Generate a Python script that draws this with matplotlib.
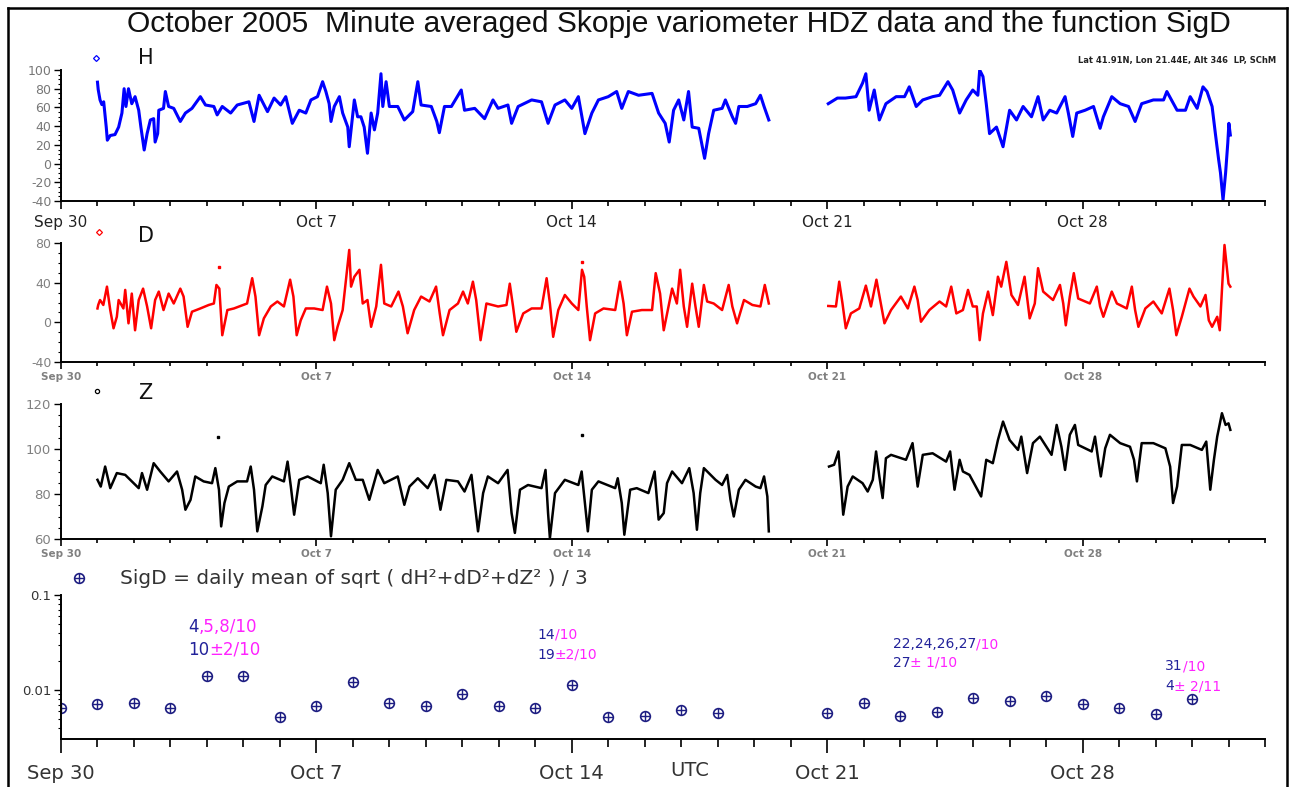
import numpy as np
import matplotlib
matplotlib.use("Agg")
import matplotlib.pyplot as plt
from matplotlib.lines import Line2D
from matplotlib.ticker import MultipleLocator, FixedLocator, NullFormatter, LogLocator

plt.rcParams["axes.unicode_minus"] = False

# ---------------- data (time in days since 2005-09-30 00:00 UTC) ----------------
H_t = [1.00,1.02,1.07,1.12,1.17,1.24,1.27,1.35,1.48,1.58,1.67,1.73,1.78,1.85,1.94,2.03,2.13,2.19,2.28,2.36,
       2.45,2.54,2.58,2.65,2.68,2.81,2.86,2.95,3.09,3.27,3.41,3.59,3.82,3.96,4.19,4.28,4.42,4.65,4.83,5.15,
       5.29,5.43,5.66,5.84,6.02,6.16,6.34,6.53,6.71,6.85,7.03,7.17,7.26,7.35,7.40,7.49,7.63,7.72,7.86,7.90,
       8.04,8.13,8.22,8.31,8.40,8.50,8.59,8.68,8.77,8.82,8.91,9.00,9.23,9.41,9.64,9.78,9.87,10.15,10.30,10.37,
       10.51,10.70,10.97,11.06,11.34,11.61,11.84,11.98,12.25,12.35,12.53,12.90,13.17,13.35,13.54,13.81,14.00,14.18,14.36,14.55,
       14.73,15.00,15.23,15.37,15.55,15.83,16.20,16.38,16.56,16.67,16.79,16.93,17.07,17.20,17.30,17.48,17.64,17.75,17.89,18.12,
       18.21,18.40,18.49,18.58,18.81,19.04,19.17,19.27,19.40,
       20.20,
       21.03,21.28,21.50,21.79,21.97,22.06,22.15,22.29,22.43,22.61,22.89,23.12,23.25,23.44,23.62,23.89,24.08,24.31,24.44,24.63,
       24.81,24.99,25.13,25.18,25.27,25.36,25.45,25.64,25.82,26.00,26.19,26.37,26.60,26.78,26.92,27.10,27.29,27.52,27.61,27.73,
       27.84,28.07,28.30,28.48,28.57,28.80,29.03,29.26,29.44,29.62,29.94,30.22,30.31,30.59,30.82,30.95,31.14,31.30,31.41,31.55,
       31.64,31.73,31.78,31.85,31.92,31.98,32.01,32.05]
H_v = [87,79,68,63,66,39,25,30,31,39,54,80,61,80,64,71.5,57,39,14.5,32,
       46.6,48,23,32,57,59,77,61,59,45,54,59,71.5,62.6,61,52,61,54,62.6,66,
       45,73,55.5,70,62.6,71.5,43,57,54,68,71.5,87.5,77,64,45,61,71.5,54,39,18,
       68,50,50,39,11,54,36,54,96,61,87.5,61,61,46.6,55.5,87.5,62.6,61,45,33,
       61,61,78.6,57,59,48,68,59,62.6,43,61,68,66,43,62.6,68,59,71.5,32,54,
       68,71.5,77,59,77,73,75,54,43,23,57,68,46.6,77,39,37.7,5.6,32,57,59,
       68,50,43,61,61,64,73,61,46.6,
       np.nan,
       64,70,70,71.5,86,96,57,78.6,46.6,64,71.5,71.5,82,61,68,71.5,73,87.5,78.6,54,
       68,78.6,73,100,93,64,32,39,18,57,46.6,61,50,71.5,46.6,57,54,71.5,54,29,
       54,57,61,37.7,50,71.5,64,61,45,64,68,68,77,57,57,71.5,59,82,77,61,
       32,4,-10,-39,-10,22,43,30.5]

D_t = [1.00,1.02,1.07,1.16,1.26,1.35,1.44,1.53,1.58,1.71,1.76,1.85,1.94,2.03,2.13,2.25,2.36,2.47,2.58,2.68,
       2.81,2.95,3.09,3.27,3.36,3.47,3.59,3.82,4.05,4.19,4.26,4.34,4.42,4.56,4.74,5.10,5.24,5.33,5.43,5.56,
       5.75,5.93,6.11,6.28,6.37,6.46,6.57,6.71,6.94,7.17,7.29,7.40,7.49,7.58,7.72,7.90,7.95,8.04,8.18,8.27,
       8.40,8.50,8.64,8.77,8.86,9.05,9.25,9.37,9.50,9.68,9.87,10.10,10.28,10.38,10.47,10.65,10.88,11.02,11.15,11.29,
       11.38,11.50,11.66,11.98,12.21,12.30,12.39,12.48,12.67,12.90,13.17,13.31,13.40,13.49,13.63,13.81,14.00,14.18,14.28,14.34,
       14.41,14.50,14.64,14.87,15.19,15.32,15.42,15.51,15.65,15.92,16.20,16.30,16.42,16.52,16.65,16.75,16.88,16.97,17.07,17.16,
       17.30,17.39,17.48,17.62,17.71,17.89,18.12,18.30,18.40,18.53,18.72,18.95,19.17,19.29,19.40,
       20.20,
       21.03,21.24,21.33,21.42,21.51,21.65,21.88,22.06,22.20,22.35,22.47,22.57,22.75,23.02,23.21,23.39,23.48,23.57,23.80,24.08,
       24.26,24.40,24.54,24.72,24.86,24.99,25.10,25.18,25.27,25.41,25.54,25.68,25.77,25.91,26.05,26.23,26.41,26.55,26.69,26.78,
       26.92,27.19,27.38,27.47,27.54,27.65,27.76,27.88,28.20,28.39,28.48,28.57,28.80,28.94,29.21,29.35,29.44,29.53,29.72,29.94,
       30.17,30.38,30.48,30.57,30.72,30.93,31.04,31.23,31.37,31.46,31.55,31.69,31.76,31.82,31.89,31.94,32.00,32.05]
D_v = [14,17.5,22.5,17.5,36,12.4,-6,5.6,22.5,14,32.7,-1,29,-8,22.5,34,16,-6,22.5,31,
       12.4,29,19,34,26,-4.5,10.7,14,17.5,19,37.7,34,-13,12.4,14,19,44.5,26,-13,4,
       16,21,16,43,26,-13,2,14,14,12.4,36,19,-18,-4.5,12.4,73,36,46,53,19,
       22.5,-4.5,16,58,19,16,31,16,-11,12.4,26,21,36,9,-13,12.4,19,31,19,41,
       22.5,-18,19,16,17.5,39,16,-9.5,9,14,14,44.5,19,-14.6,12.4,27.6,19,12.4,53,46,
       16,-18,9,14,12.4,41,19,-13,10.7,12.4,12.4,49.6,29,-8,16,34,19,53,16,-4.5,
       39,16,-4.5,37.7,21,19,12.4,37.7,16,-1,22.5,17.5,16,37.7,19,
       np.nan,
       16.5,16,41,19,-6,9,14,37,16,43,19,-1,12.4,26,14,36,22.5,0.6,12.4,21,
       16,36,9,12.4,32.7,16,16,-18,9,31,7.3,46,36,61,27.6,17.5,46,4,19,54.6,
       31,22.5,37.7,19,-3,26,49.6,24,19,36,16,5.6,31,19,14,36,12.4,-4.5,14,21,
       9,34,12.4,-13,5.6,34,26,16,27.6,2,-4.5,5.6,-8,32.7,78,60,39,36]

Z_t = [1.00,1.09,1.21,1.35,1.53,1.76,1.99,2.13,2.22,2.36,2.54,2.72,2.95,3.18,3.32,3.41,3.55,3.68,3.91,4.14,
       4.23,4.33,4.39,4.48,4.60,4.83,5.10,5.20,5.29,5.38,5.52,5.61,5.79,6.11,6.21,6.30,6.39,6.53,6.76,7.12,
       7.20,7.31,7.40,7.53,7.72,7.90,8.08,8.27,8.45,8.68,8.86,9.23,9.41,9.55,9.78,10.05,10.24,10.40,10.56,10.88,
       11.06,11.25,11.34,11.43,11.57,11.70,11.98,12.24,12.35,12.44,12.58,12.80,13.17,13.28,13.35,13.40,13.54,13.81,14.18,14.27,
       14.36,14.44,14.55,14.73,15.19,15.26,15.37,15.44,15.60,15.78,16.10,16.27,16.38,16.52,16.61,16.75,17.02,17.22,17.34,17.43,
       17.52,17.62,17.94,18.12,18.26,18.35,18.44,18.58,18.76,19.04,19.17,19.27,19.36,19.40,
       20.20,
       21.05,21.19,21.31,21.37,21.44,21.56,21.70,21.97,22.11,22.25,22.34,22.43,22.52,22.61,22.75,23.16,23.34,23.48,23.62,23.89,
       24.26,24.37,24.49,24.63,24.72,24.90,25.22,25.36,25.54,25.68,25.82,26.00,26.23,26.32,26.48,26.64,26.83,27.15,27.29,27.42,
       27.52,27.65,27.79,27.88,28.25,28.34,28.43,28.50,28.62,28.75,29.03,29.30,29.41,29.49,29.62,29.94,30.27,30.40,30.48,30.59,
       30.72,30.95,31.27,31.39,31.50,31.60,31.69,31.82,31.92,32.00,32.05]
Z_v = [86.3,83.3,92.2,82.6,89.3,88.5,84.8,82.6,89.3,81.9,93.7,90,85.6,90,81.9,73,77.4,87.8,85.6,84.8,
       91.5,81.9,65.6,76,83.3,85.6,85.6,92.2,81.9,63.4,74.5,84,87.8,85.6,94.4,83.3,70.8,86.3,87.8,84.8,
       93,80.4,61.2,81.9,86.3,93.7,86.3,86.3,77.4,90.7,84.8,87.8,75.2,83.3,87,82.6,88.5,73,86.3,85.6,
       81.1,88.5,76,63.4,80.4,87.8,84.8,90.7,71.5,62.7,81.9,84,82.6,90.7,71.5,60.4,80.4,86.3,84,90,
       76,63.4,81.9,85.6,82.6,87,76,61.9,81.9,82.6,80.4,90,68.6,71.5,84.8,90,84.8,91.5,80.4,64.1,
       80.4,91.5,86.3,84,88.5,77.4,70,81.9,86.3,83.3,82.6,87.8,78.9,63.4,
       np.nan,
       92.2,93,98.9,86.3,70.8,83.3,87.8,84.8,81.1,86.3,98.9,87.8,78.2,95.9,97.4,95.2,102.6,83.3,97.4,98.1,
       94.4,98.9,81.9,95.2,90,88.5,78.9,95.2,93.7,104,112.2,104,99.6,105.5,89.3,102.6,105.5,97.4,110.7,101,
       90.7,106.3,110.7,101.8,98.9,105.5,95.2,87.8,100.3,106.3,102.6,101,95.2,85.6,102.6,102.6,100.3,92.2,76,83.3,
       101.8,101.8,99.6,103.3,81.9,95.2,105.5,115.9,110.7,111.4,108.5]

# isolated single-sample values
D_out_t = [4.33, 14.27]
D_out_v = [56, 61]
Z_out_t = [4.31, 14.27]
Z_out_v = [105.5, 106.3]

# SigD daily values
S_days = [0,1,2,3,4,5,6,7,8,9,10,11,12,13,14,15,16,17,18,
          21,22,23,24,25,26,27,28,29,30,31]
S_vals = [0.00647,0.00713,0.00735,0.0064,0.0140,0.0140,0.00524,0.00684,0.01214,0.00735,
          0.0068,0.0090,0.0068,0.0064,0.0113,0.00515,0.00532,0.0062,0.00577,
          0.00577,0.00724,0.00532,0.0059,0.00817,0.0077,0.0087,0.00707,0.0064,0.00555,0.00804]

week_ticks = [0, 7, 14, 21, 28]
week_labels = ["Sep 30", "Oct 7", "Oct 14", "Oct 21", "Oct 28"]

# ---------------- figure ----------------
W, Hh = 1295, 787
fig = plt.figure(figsize=(W / 100, Hh / 100), dpi=100)
fig.patch.set_facecolor("white")


def rect(x0, y0, x1, y1):
    return [x0 / W, 1 - y1 / Hh, (x1 - x0) / W, (y1 - y0) / Hh]


def fx(x):
    return x / W


def fy(y):
    return 1 - y / Hh


axH = fig.add_axes(rect(61, 70, 1265, 201))
axD = fig.add_axes(rect(61, 243, 1265, 362))
axZ = fig.add_axes(rect(61, 404, 1265, 539))
axS = fig.add_axes(rect(61, 595, 1265, 739))


def style(ax, xlab_size, xlab_color, xlab_weight, xmaj_len, xpad, ylab_size, ylab_color):
    for s in ("top", "right"):
        ax.spines[s].set_visible(False)
    for s in ("left", "bottom"):
        ax.spines[s].set_linewidth(1.4)
        ax.spines[s].set_color("black")
    ax.set_xlim(0, 33)
    ax.xaxis.set_major_locator(FixedLocator(week_ticks))
    ax.set_xticklabels(week_labels)
    ax.xaxis.set_minor_locator(MultipleLocator(1))
    ax.tick_params(axis="x", which="major", length=xmaj_len, width=1.2, direction="out",
                   pad=xpad, labelsize=xlab_size, labelcolor=xlab_color)
    ax.tick_params(axis="x", which="minor", length=xmaj_len * 0.6, width=1.2, direction="out")
    ax.tick_params(axis="y", which="major", length=5, width=1.0, direction="out",
                   pad=2, labelsize=ylab_size, labelcolor=ylab_color)
    ax.tick_params(axis="y", which="minor", length=2.5, width=0.8, direction="out")
    for lab in ax.get_xticklabels():
        lab.set_fontweight(xlab_weight)
    ax.patch.set_alpha(0)


# H panel
axH.plot(H_t, H_v, color="#0000ff", lw=2.2, solid_joinstyle="round")
axH.set_ylim(-40, 100)
axH.yaxis.set_major_locator(MultipleLocator(20))
axH.yaxis.set_minor_locator(MultipleLocator(5))
style(axH, 11, "#222222", "normal", 6, 4, 9, "#777777")

# D panel
axD.plot(D_t, D_v, color="#ff0000", lw=1.8, solid_joinstyle="round")
axD.plot(D_out_t, D_out_v, ls="none", marker="s", ms=1.8, color="#ff0000")
axD.set_ylim(-40, 80)
axD.yaxis.set_major_locator(MultipleLocator(40))
axD.yaxis.set_minor_locator(MultipleLocator(10))
style(axD, 7.5, "#808080", "bold", 5, 2, 9, "#808080")

# Z panel
axZ.plot(Z_t, Z_v, color="black", lw=1.8, solid_joinstyle="round")
axZ.plot(Z_out_t, Z_out_v, ls="none", marker="s", ms=1.8, color="black")
axZ.set_ylim(60, 120)
axZ.yaxis.set_major_locator(MultipleLocator(20))
axZ.yaxis.set_minor_locator(MultipleLocator(5))
style(axZ, 7.5, "#808080", "bold", 5, 2, 9.5, "#808080")

# SigD panel
navy = "#1e1e82"
axS.set_yscale("log")
axS.plot(S_days, S_vals, ls="none", marker="o", ms=7, mfc="none", mec=navy, mew=1.2)
axS.plot(S_days, S_vals, ls="none", marker="+", ms=7, mec=navy, mew=1.0)
axS.set_ylim(0.00305, 0.1)
axS.yaxis.set_minor_locator(LogLocator(base=10, subs=np.arange(2, 10), numticks=10))
axS.yaxis.set_minor_formatter(NullFormatter())
axS.set_yticks([0.01, 0.1])
axS.set_yticklabels(["0.01", "0.1"])
style(axS, 14, "#333333", "normal", 10, 8, 9.5, "#333333")

# ---------------- texts ----------------
fig.text(fx(679), fy(32), "October 2005  Minute averaged Skopje variometer HDZ data and the function SigD",
         ha="center", va="baseline", fontsize=21.6, family="Liberation Sans", color="#111111")
fig.text(fx(1276), fy(60), "Lat 41.91N, Lon 21.44E, Alt 346  LP, SChM",
         ha="right", va="center", fontsize=6, fontweight="bold", color="#222222")

for (mx, my, col, mk, lab, ly) in [(96, 58, "#0000ff", "D", "H", 58),
                                   (99, 232, "#ff0000", "D", "D", 236),
                                   (97, 391, "black", "o", "Z", 393)]:
    fig.add_artist(Line2D([fx(mx)], [fy(my)], ls="none", marker=mk, ms=3, mfc="white",
                          mec=col, mew=0.9, transform=fig.transFigure))
    fig.text(fx(138), fy(ly), lab, ha="left", va="center", fontsize=15, color="#111111")

fig.add_artist(Line2D([fx(79)], [fy(578)], ls="none", marker="o", ms=7, mfc="none", mec=navy,
                      mew=1.2, transform=fig.transFigure))
fig.add_artist(Line2D([fx(79)], [fy(578)], ls="none", marker="+", ms=7, mec=navy,
                      mew=1.0, transform=fig.transFigure))
fig.text(fx(120), fy(578), "SigD = daily mean of sqrt ( dH²+dD²+dZ² ) / 3",
         ha="left", va="center", fontsize=14.5, color="#333333")
fig.text(fx(690), fy(771), "UTC", ha="center", va="center", fontsize=14, color="#333333")

renderer = fig.canvas.get_renderer()
mag = "#ff22ff"
ann = "#22229a"


def mtext(x_px, y_px, parts, size):
    x = x_px
    for s, c in parts:
        t = fig.text(fx(x), fy(y_px), s, color=c, fontsize=size, ha="left", va="center")
        bb = t.get_window_extent(renderer=renderer)
        x = bb.x1


mtext(188, 627, [("4", ann), (",5,8/10", mag)], 12)
mtext(188, 650, [("10", ann), ("±2/10", mag)], 12)
mtext(537, 635, [("14", ann), ("/10", mag)], 10)
mtext(537, 655, [("19", ann), ("±2/10", mag)], 10)
mtext(893, 644, [("22,24,26,27", ann), ("/10", mag)], 10)
mtext(893, 663, [("27", ann), ("± 1/10", mag)], 10)
mtext(1165, 666, [("31", ann), ("/10", mag)], 10)
mtext(1165, 686, [("4", ann), ("± 2/11", mag)], 10)

# outer frame
for xs, ys in [([8, 8], [8, 790]), ([8, 1287], [8, 8]), ([1287, 1287], [8, 790])]:
    fig.add_artist(Line2D([fx(v) for v in xs], [fy(v) for v in ys], color="black", lw=1.8,
                          transform=fig.transFigure))

fig.savefig("out.png", dpi=100, facecolor="white")
